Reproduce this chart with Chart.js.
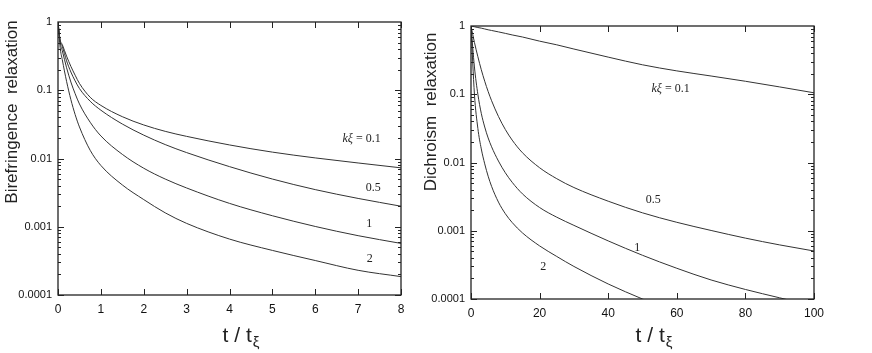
<!DOCTYPE html>
<html>
<head>
<meta charset="utf-8">
<script src="https://cdn.jsdelivr.net/npm/chart.js@4.4.1/dist/chart.umd.min.js"></script>
<style>
  html, body { margin: 0; padding: 0; background: #fff; }
  #wrap { position: relative; width: 872px; height: 353px; overflow: hidden; }
  #leftBox { position: absolute; left: 0; top: 0; width: 420px; height: 353px; }
  #rightBox { position: absolute; left: 420px; top: 0; width: 452px; height: 353px; }
</style>
</head>
<body>
<div id="wrap">
  <div id="leftBox"><canvas id="birefChart"></canvas></div>
  <div id="rightBox"><canvas id="dichChart"></canvas></div>
</div>
<script>
// values
const yTickVals = [0.0001, 0.001, 0.01, 0.1, 1];
const yTickLabels = ['0.0001', '0.001', '0.01', '0.1', '1'];

// left panel: birefringence
const birefT = [0, 0.05, 0.1, 0.2, 0.3, 0.4, 0.5, 0.75, 1, 1.5, 2, 2.5, 3, 4, 5, 6, 7, 8];
const biref01 = [1, 0.55, 0.467, 0.316, 0.224, 0.166, 0.126, 0.079, 0.06, 0.041, 0.031, 0.025, 0.0211, 0.0158, 0.0124, 0.0102, 0.0086, 0.0073];
const biref05 = [1, 0.53, 0.44, 0.27, 0.185, 0.137, 0.106, 0.069, 0.051, 0.032, 0.022, 0.016, 0.0122, 0.0076, 0.005, 0.0035, 0.0026, 0.002];
const biref1 = [1, 0.5, 0.38, 0.214, 0.132, 0.089, 0.063, 0.034, 0.0214, 0.0115, 0.0072, 0.005, 0.0037, 0.0022, 0.00145, 0.00101, 0.00074, 0.00057];
const biref2 = [1, 0.42, 0.28, 0.135, 0.073, 0.044, 0.029, 0.0132, 0.0079, 0.0041, 0.0025, 0.0016, 0.00112, 0.00066, 0.00045, 0.00032, 0.00023, 0.000186];
const birefXTicks = [0, 1, 2, 3, 4, 5, 6, 7, 8];

// right panel: dichroism
const dichT = [0, 1, 2, 3, 4, 5, 6, 8, 10, 12, 15, 20, 25, 30, 40, 50, 60, 70, 80, 90, 100];
const dich01 = [1, 0.975, 0.95, 0.93, 0.905, 0.88, 0.86, 0.82, 0.78, 0.74, 0.69, 0.6, 0.53, 0.46, 0.35, 0.27, 0.22, 0.185, 0.155, 0.128, 0.105];
const dich05 = [1, 0.575, 0.355, 0.229, 0.155, 0.1096, 0.0804, 0.0473, 0.0305, 0.0213, 0.0139, 0.00838, 0.00579, 0.0043, 0.00271, 0.00183, 0.00133, 0.00101, 0.00078, 0.00062, 0.000505];
const dich1 = [1, 0.251, 0.1, 0.0525, 0.0331, 0.0229, 0.017, 0.0105, 0.00708, 0.00513, 0.00347, 0.00219, 0.00158, 0.0012, 0.00071, 0.000437, 0.000282, 0.00019, 0.000138, 0.000104, 0.000079];
const dich2 = [1, 0.1, 0.0316, 0.0158, 0.00955, 0.0063, 0.00447, 0.00263, 0.00178, 0.00132, 0.00093, 0.0006, 0.00042, 0.0003, 0.000166, 0.0001, 0.000063, null, null, null, null];
const dichXTicks = [0, 20, 40, 60, 80, 100];

// curve labels: [text, t, value]
const birefLabels = [['kξ = 0.1', 7.08, 0.0193], ['0.5', 7.35, 0.0037], ['1', 7.26, 0.0011], ['2', 7.27, 0.00034]];
const dichLabels = [['kξ = 0.1', 58.2, 0.122], ['0.5', 53.1, 0.0028], ['1', 48.5, 0.00057], ['2', 21.1, 0.0003]];

const INK = '#222';

function toPoints(ts, vs) {
    return ts.map((t, i) => ({x: t, y: vs[i]}));
}

function makeDataset(ts, vs) {
    return {
        data: toPoints(ts, vs),
        borderColor: '#333',
        borderWidth: 1,
        pointRadius: 0,
        fill: false,
        cubicInterpolationMode: 'monotone',
        spanGaps: false
    };
}

function drawCurveLabel(ctx, text, px, py) {
    ctx.textBaseline = 'middle';
    ctx.fillStyle = INK;
    if (text.startsWith('kξ')) {
        ctx.font = 'italic 12px "Liberation Serif"';
        const a = 'kξ';
        const b = ' = 0.1';
        const wa = ctx.measureText(a).width;
        ctx.font = '12px "Liberation Serif"';
        const wb = ctx.measureText(b).width;
        let x0 = px - (wa + wb) / 2;
        ctx.textAlign = 'left';
        ctx.font = 'italic 12px "Liberation Serif"';
        ctx.fillText(a, x0, py);
        ctx.font = '12px "Liberation Serif"';
        ctx.fillText(b, x0 + wa, py);
    } else {
        ctx.font = '12px "Liberation Serif"';
        ctx.textAlign = 'center';
        ctx.fillText(text, px, py);
    }
}

function framePlugin(yTitle, yTitleX, yTitleY, xTitleShift, labels) {
    return {
        id: 'frame',
        afterDraw(chart) {
            const ctx = chart.ctx;
            const {left, right, top, bottom} = chart.chartArea;
            const xs = chart.scales.x;
            const ys = chart.scales.y;
            ctx.save();
            ctx.strokeStyle = INK;
            ctx.lineWidth = 1.3;
            ctx.strokeRect(left, top, right - left, bottom - top);

            // inward ticks
            ctx.lineWidth = 1;
            ctx.beginPath();
            xs.ticks.forEach(t => {
                const px = Math.round(xs.getPixelForValue(t.value)) + 0.5;
                ctx.moveTo(px, bottom); ctx.lineTo(px, bottom - 6);
                ctx.moveTo(px, top); ctx.lineTo(px, top + 6);
            });
            for (let d = -4; d <= -1; d++) {
                for (let m = 1; m <= 9; m++) {
                    const v = m * Math.pow(10, d);
                    const py = Math.round(ys.getPixelForValue(v)) + 0.5;
                    const len = m === 1 ? 6 : 3;
                    ctx.moveTo(left, py); ctx.lineTo(left + len, py);
                    ctx.moveTo(right, py); ctx.lineTo(right - len, py);
                }
            }
            ctx.stroke();

            // curve labels
            labels.forEach(([text, t, v]) => {
                drawCurveLabel(ctx, text, xs.getPixelForValue(t), ys.getPixelForValue(v));
            });

            // y title
            ctx.save();
            ctx.translate(yTitleX, yTitleY);
            ctx.rotate(-Math.PI / 2);
            ctx.font = '17px "Liberation Sans"';
            ctx.fillStyle = INK;
            ctx.textAlign = 'center';
            ctx.textBaseline = 'middle';
            ctx.fillText(yTitle.replace(' ', '  '), 0, 0);
            ctx.restore();

            // x title t / tξ
            ctx.fillStyle = INK;
            ctx.textBaseline = 'alphabetic';
            ctx.textAlign = 'left';
            ctx.font = '21px "Liberation Sans"';
            const main = 't / t';
            const wm = ctx.measureText(main).width;
            ctx.font = '15px "Liberation Sans"';
            const ws = ctx.measureText('ξ').width;
            const cx = (left + right) / 2 + xTitleShift;
            const x0 = cx - (wm + ws) / 2;
            ctx.font = '21px "Liberation Sans"';
            ctx.fillText(main, x0, 342);
            ctx.font = '15px "Liberation Sans"';
            ctx.fillText('ξ', x0 + wm + 1, 347);
            ctx.restore();
        }
    };
}

function makePanel(canvasId, w, ts, series, xMax, xTicks, pad, yWidth, xHeight, yTitle, yTitleX, labels) {
    const canvas = document.getElementById(canvasId);
    canvas.width = w;
    canvas.height = 353;
    return new Chart(canvas, {
        type: 'line',
        data: { datasets: series.map(s => makeDataset(ts, s)) },
        options: {
            responsive: false,
            animation: false,
            devicePixelRatio: 1,
            layout: { padding: pad },
            plugins: { legend: { display: false }, tooltip: { enabled: false } },
            scales: {
                x: {
                    type: 'linear',
                    min: 0,
                    max: xMax,
                    afterBuildTicks: s => { s.ticks = xTicks.map(v => ({value: v})); },
                    afterFit: s => { s.height = xHeight; },
                    grid: { display: false, drawTicks: false },
                    border: { display: false },
                    ticks: {
                        color: '#111',
                        padding: 7,
                        maxRotation: 0,
                        font: { family: 'Liberation Sans', size: 12 }
                    }
                },
                y: {
                    type: 'logarithmic',
                    min: 0.0001,
                    max: 1,
                    afterBuildTicks: s => { s.ticks = yTickVals.map(v => ({value: v})); },
                    afterFit: s => { s.width = yWidth; },
                    grid: { display: false, drawTicks: false },
                    border: { display: false },
                    ticks: {
                        color: '#111',
                        padding: 6,
                        font: { family: 'Liberation Sans', size: 11 },
                        callback: (v, i) => yTickLabels[i]
                    }
                }
            }
        },
        plugins: [framePlugin(yTitle, yTitleX, 112, 11, labels)]
    });
}

makePanel('birefChart', 420, birefT, [biref01, biref05, biref1, biref2], 8, birefXTicks,
    { left: 0, top: 22, right: 19, bottom: 0 }, 58, 58,
    'Birefringence relaxation', 12, birefLabels);

makePanel('dichChart', 452, dichT, [dich01, dich05, dich1, dich2], 100, dichXTicks,
    { left: 0, top: 26, right: 58, bottom: 0 }, 51, 54,
    'Dichroism relaxation', 11, dichLabels);
</script>
</body>
</html>
